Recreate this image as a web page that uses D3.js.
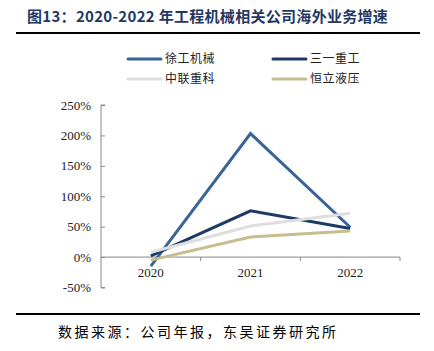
<!DOCTYPE html>
<html>
<head>
<meta charset="utf-8">
<script src="https://cdn.jsdelivr.net/npm/d3@7"></script>
<style>
  body { margin: 0; background: #fff; }
  svg { display: block; }
</style>
</head>
<body>
<div id="chart"></div>
<script>
const years = ["2020", "2021", "2022"];
const seriesNames = ["徐工机械", "三一重工", "中联重科", "恒立液压"];
const xugong = [-15, 203, 49];
const sany = [2, 76, 47];
const zoomlion = [8, 51, 72];
const hengli = [-5, 33, 43];
const yTicks = [-50, 0, 50, 100, 150, 200, 250];

const colors = ["#3A6397", "#1C3A64", "#DEDEDE", "#C7BD8F"];
const seriesData = [xugong, sany, zoomlion, hengli];

const W = 434, H = 351;
const svg = d3.select("#chart").append("svg")
              .attr("width", W)
              .attr("height", H);

// title
svg.append("text")
   .attr("x", 27)
   .attr("y", 22)
   .attr("font-family", "'Noto Sans CJK SC', sans-serif")
   .attr("font-weight", "bold")
   .attr("font-size", 15)
   .attr("letter-spacing", 0.3)
   .attr("fill", "#1F3864")
   .text("图13：2020-2022 年工程机械相关公司海外业务增速");

svg.append("line")
   .attr("x1", 16).attr("x2", 420)
   .attr("y1", 33).attr("y2", 33)
   .attr("stroke", "#000").attr("stroke-width", 2);

svg.append("line")
   .attr("x1", 16).attr("x2", 420)
   .attr("y1", 314).attr("y2", 314)
   .attr("stroke", "#000").attr("stroke-width", 2);

svg.append("text")
   .attr("x", 58)
   .attr("y", 337)
   .attr("font-family", "'Noto Sans CJK SC', sans-serif")
   .attr("font-size", 14)
   .attr("letter-spacing", 2.5)
   .attr("fill", "#000")
   .text("数据来源：公司年报，东吴证券研究所");

// scales
const x = d3.scaleBand().domain(years).range([101, 400]);
const y = d3.scaleLinear().domain([-50, 250]).range([287.5, 105]);

// y axis
const yAxis = svg.append("g")
   .attr("transform", "translate(101,0)")
   .call(d3.axisRight(y).tickValues(yTicks).tickSize(4).tickFormat(() => ""));
yAxis.select(".domain").attr("stroke", "#888").attr("d", `M4,${y(250)}H0V${y(-50)}H4`);
yAxis.selectAll(".tick line").attr("stroke", "#888");

svg.selectAll(".ylab")
   .data(yTicks)
   .enter()
   .append("text")
   .attr("class", "ylab")
   .attr("x", 91)
   .attr("y", d => y(d))
   .attr("dy", "0.35em")
   .attr("text-anchor", "end")
   .attr("font-family", "'Liberation Serif', 'Times New Roman', serif")
   .attr("font-size", 13)
   .attr("fill", "#222")
   .text(d => d + "%");

// x axis at 0%
const xAxis = svg.append("g")
   .attr("transform", `translate(0,${y(0)})`)
   .call(d3.axisBottom(x).tickSize(0).tickFormat(""));
xAxis.select(".domain").attr("stroke", "#888").attr("d", `M101,0H400`);
xAxis.selectAll(".tick").remove();
xAxis.selectAll(".sep")
   .data(years)
   .enter()
   .append("line")
   .attr("x1", d => x(d) + x.bandwidth())
   .attr("x2", d => x(d) + x.bandwidth())
   .attr("y1", 0).attr("y2", 4)
   .attr("stroke", "#888");

svg.selectAll(".xlab")
   .data(years)
   .enter()
   .append("text")
   .attr("class", "xlab")
   .attr("x", d => x(d) + x.bandwidth() / 2)
   .attr("y", y(0) + 20)
   .attr("text-anchor", "middle")
   .attr("font-family", "'Liberation Serif', 'Times New Roman', serif")
   .attr("font-size", 13)
   .attr("fill", "#222")
   .text(d => d);

// lines, in series order
const line = d3.line()
   .x((d, i) => x(years[i]) + x.bandwidth() / 2)
   .y(d => y(d));

seriesData.forEach((s, k) => {
  svg.append("path")
     .datum(s)
     .attr("d", line)
     .attr("fill", "none")
     .attr("stroke", colors[k])
     .attr("stroke-width", 3);
});

// legend
const legendPos = [[128, 59], [273, 59], [128, 79], [273, 79]];
seriesNames.forEach((name, i) => {
  const [lx, ly] = legendPos[i];
  svg.append("line")
     .attr("x1", lx).attr("x2", lx + 33)
     .attr("y1", ly).attr("y2", ly)
     .attr("stroke", colors[i])
     .attr("stroke-width", 3)
     .attr("stroke-linecap", "round");
  svg.append("text")
     .attr("x", lx + 37)
     .attr("y", ly)
     .attr("dy", "0.35em")
     .attr("font-family", "'Noto Sans CJK SC', sans-serif")
     .attr("font-size", 12)
     .attr("letter-spacing", 0.5)
     .attr("fill", "#222")
     .text(name);
});
</script>
</body>
</html>
